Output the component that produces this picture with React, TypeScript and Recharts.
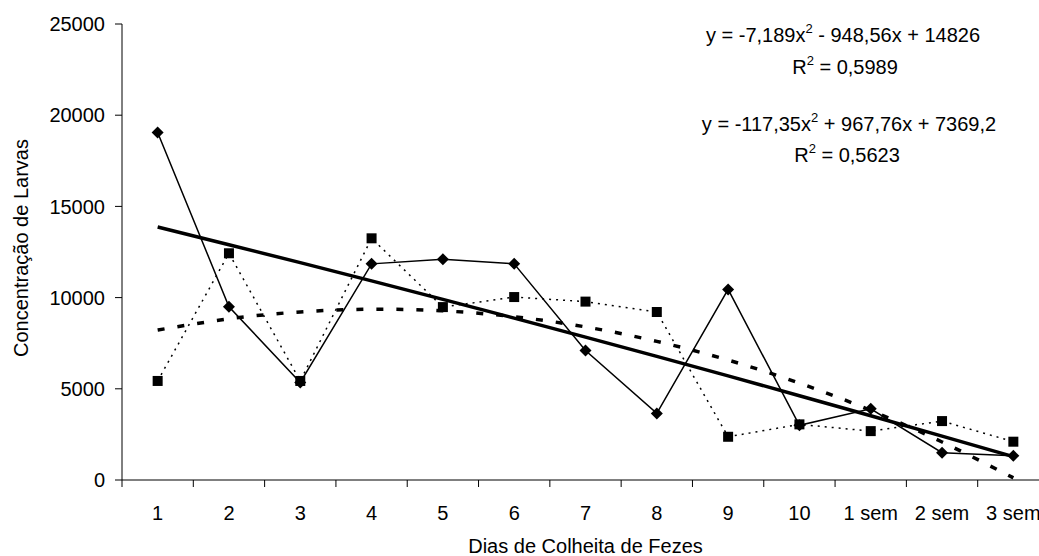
import { LineChart, Line, XAxis, YAxis, Label } from "recharts";

// dias de colheita
const categories = ["1", "2", "3", "4", "5", "6", "7", "8", "9", "10", "1 sem", "2 sem", "3 sem"];

// série com losangos (linha contínua)
const diamondValues = [19050, 9500, 5350, 11850, 12100, 11850, 7100, 3650, 10450, 3000, 3900, 1500, 1330];
// série com quadrados (linha pontilhada)
const squareValues = [5430, 12430, 5430, 13250, 9480, 10030, 9780, 9210, 2370, 3050, 2680, 3230, 2100];
// linhas de tendência
const trendSolid = [13870, 12900, 11916, 10917, 9903, 8876, 7834, 6777, 5707, 4622, 3522, 2408, 1280];
const trendDashed = [8220, 8835, 9216, 9363, 9274, 8951, 8393, 7601, 6574, 5312, 3815, 2084, 117];

const yTicks = [0, 5000, 10000, 15000, 20000, 25000];

const data = categories.map((c, i) => ({
  x: i + 1,
  label: c,
  diamonds: diamondValues[i],
  squares: squareValues[i],
  trendA: trendSolid[i],
  trendB: trendDashed[i],
}));

// label positions at category centres, tick marks at the boundaries (Excel style)
const xTicks = [0.5, ...categories.flatMap((_, i) => [i + 1, i + 1.5])];

const FONT = "'Liberation Sans', Arial, sans-serif";
const FS = 20;

const XTick = (props: any) => {
  const { x, y, payload } = props;
  const v = payload.value;
  if (Number.isInteger(v)) {
    return (
      <text x={x} y={y + 40} textAnchor="middle" fontFamily={FONT} fontSize={FS} fill="#000">
        {categories[v - 1]}
      </text>
    );
  }
  return <line x1={x} x2={x} y1={y} y2={y + 7} stroke="#000" strokeWidth={1} />;
};

const Diamond = (props: any) => {
  const { cx, cy } = props;
  if (cx == null || cy == null) return null;
  const r = 6;
  return (
    <polygon
      points={`${cx},${cy - r} ${cx + r},${cy} ${cx},${cy + r} ${cx - r},${cy}`}
      fill="#000"
    />
  );
};

const Square = (props: any) => {
  const { cx, cy } = props;
  if (cx == null || cy == null) return null;
  const s = 5;
  return <rect x={cx - s} y={cy - s} width={s * 2} height={s * 2} fill="#000" />;
};

const Sup = ({ children }: { children: string }) => (
  <tspan dy={-9} fontSize={13}>
    {children}
  </tspan>
);

export default function App() {
  return (
    <div
      style={{
        position: "fixed",
        left: 0,
        top: 0,
        width: 1039,
        height: 556,
        overflow: "hidden",
        background: "#fff",
      }}
    >
      <LineChart
        width={1060}
        height={556}
        data={data}
        margin={{ top: 24, right: 11, left: 0, bottom: 0 }}
      >
        <XAxis
          dataKey="x"
          type="number"
          domain={[0.5, 13.5]}
          ticks={xTicks}
          interval={0}
          tickLine={false}
          tickSize={0}
          tickMargin={0}
          height={76}
          axisLine={{ stroke: "#000", strokeWidth: 1 }}
          tick={<XTick />}
        >
          <Label
            content={(p: any) => {
              const vb = p.viewBox;
              return (
                <text
                  x={vb.x + vb.width / 2}
                  y={553}
                  textAnchor="middle"
                  fontFamily={FONT}
                  fontSize={FS}
                  fill="#000"
                >
                  Dias de Colheita de Fezes
                </text>
              );
            }}
          />
        </XAxis>
        <YAxis
          domain={[0, 25000]}
          ticks={yTicks}
          width={122}
          tickSize={7}
          tickMargin={10}
          axisLine={{ stroke: "#000", strokeWidth: 1 }}
          tickLine={{ stroke: "#000", strokeWidth: 1 }}
          tick={{ fontFamily: FONT, fontSize: FS, fill: "#000" }}
        >
          <Label
            content={(p: any) => {
              const vb = p.viewBox;
              const cy = vb.y + vb.height / 2 - 4;
              return (
                <text
                  transform={`translate(28, ${cy}) rotate(-90)`}
                  textAnchor="middle"
                  fontFamily={FONT}
                  fontSize={FS}
                  fill="#000"
                >
                  Concentração de Larvas
                </text>
              );
            }}
          />
        </YAxis>
        <Line
          dataKey="squares"
          stroke="#000"
          strokeWidth={1.5}
          strokeDasharray="2 5"
          dot={<Square />}
          activeDot={false}
          isAnimationActive={false}
        />
        <Line
          dataKey="diamonds"
          stroke="#000"
          strokeWidth={1.5}
          dot={<Diamond />}
          activeDot={false}
          isAnimationActive={false}
        />
        <Line
          dataKey="trendA"
          type="natural"
          stroke="#000"
          strokeWidth={3.5}
          dot={false}
          activeDot={false}
          isAnimationActive={false}
        />
        <Line
          dataKey="trendB"
          type="natural"
          stroke="#000"
          strokeWidth={3.5}
          strokeDasharray="7 13"
          dot={false}
          activeDot={false}
          isAnimationActive={false}
        />
      </LineChart>
      <svg
        width={1039}
        height={556}
        style={{ position: "absolute", left: 0, top: 0, pointerEvents: "none" }}
      >
        <g fontFamily={FONT} fontSize={FS} fill="#000" textAnchor="middle">
          <text x={843} y={42}>
            y = -7,189x<Sup>2</Sup>
            <tspan dy={9}> - 948,56x + 14826</tspan>
          </text>
          <text x={845} y={74}>
            R<Sup>2</Sup>
            <tspan dy={9}> = 0,5989</tspan>
          </text>
          <text x={849} y={131}>
            y = -117,35x<Sup>2</Sup>
            <tspan dy={9}> + 967,76x + 7369,2</tspan>
          </text>
          <text x={847} y={162}>
            R<Sup>2</Sup>
            <tspan dy={9}> = 0,5623</tspan>
          </text>
        </g>
      </svg>
    </div>
  );
}
